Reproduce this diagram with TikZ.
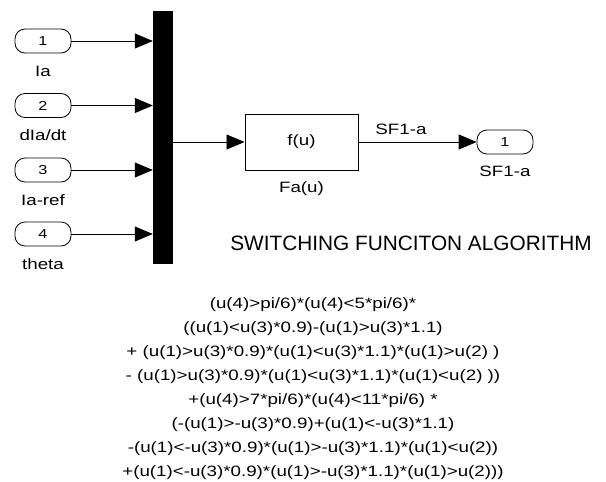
\documentclass[tikz,border=0pt]{standalone}
\usepackage{fontspec}
\setmainfont[FakeStretch=1.25]{Liberation Sans}
\newfontfamily\titlefont{Liberation Sans}
\usetikzlibrary{arrows.meta,positioning}

\begin{document}
\begin{tikzpicture}[x=1pt,y=-1pt]
\tikzset{port/.style={draw,line width=0.8pt,rounded corners=10pt,minimum width=56pt,minimum height=24pt,inner sep=0pt,font=\fontsize{13}{15}\selectfont},
  sig/.style={-{Triangle[length=18pt,width=15pt]},line width=0.8pt},
  lbl/.style={inner sep=0pt,text height=11pt,text depth=3pt,font=\fontsize{15}{18}\selectfont}}
\useasboundingbox (0,0) rectangle (606,482);
\node[fill=black,minimum width=20pt,minimum height=253pt,inner sep=0pt] (mux) at (163,137.5) {};
\foreach \n/\y/\t in {1/41/Ia,2/105.5/{dIa/dt},3/170/Ia-ref,4/234/theta}{
  \node[port] (in\n) at (43,\y) {\n};
  \node[lbl,below=11.5pt of in\n] (lin\n) {\t};
  \draw[sig] (in\n) -- (in\n -| mux.west);
}
\node[draw,line width=1pt,minimum width=113pt,minimum height=56pt,inner sep=0pt,font=\fontsize{15}{18}\selectfont] (fcn) at (301.5,142) {f(u)};
\node[lbl,below=11pt of fcn] (lfcn) {Fa(u)};
\node[port] (out) at (505,142) {1};
\node[lbl,below=11pt of out] (lout) {SF1-a};
\draw[sig] (mux.east |- fcn.west) -- (fcn.west);
\draw[sig] (fcn.east) -- node[lbl,pos=0.36,above=4pt] {SF1-a} (out.west);
% title
\node[inner sep=0pt,font=\titlefont\fontsize{20.8}{24}\selectfont] (title) at (411,243) {SWITCHING FUNCITON ALGORITHM};
% expression of the fcn block
\foreach \t [count=\i] in {{(u(4)>pi/6)*(u(4)<5*pi/6)*},
  {((u(1)<u(3)*0.9)-(u(1)>u(3)*1.1)},
  {+ (u(1)>u(3)*0.9)*(u(1)<u(3)*1.1)*(u(1)>u(2) )},
  {- (u(1)>u(3)*0.9)*(u(1)<u(3)*1.1)*(u(1)<u(2) ))},
  {+(u(4)>7*pi/6)*(u(4)<11*pi/6) *},
  {(-(u(1)>-u(3)*0.9)+(u(1)<-u(3)*1.1)},
  {-(u(1)<-u(3)*0.9)*(u(1)>-u(3)*1.1)*(u(1)<u(2))},
  {+(u(1)<-u(3)*0.9)*(u(1)>-u(3)*1.1)*(u(1)>u(2)))}}
  \node[anchor=base,inner sep=0pt,font=\fontsize{15}{18}\selectfont] (expr\i) at (313,{284+24.1*\i}) {\t};
\end{tikzpicture}
\end{document}
